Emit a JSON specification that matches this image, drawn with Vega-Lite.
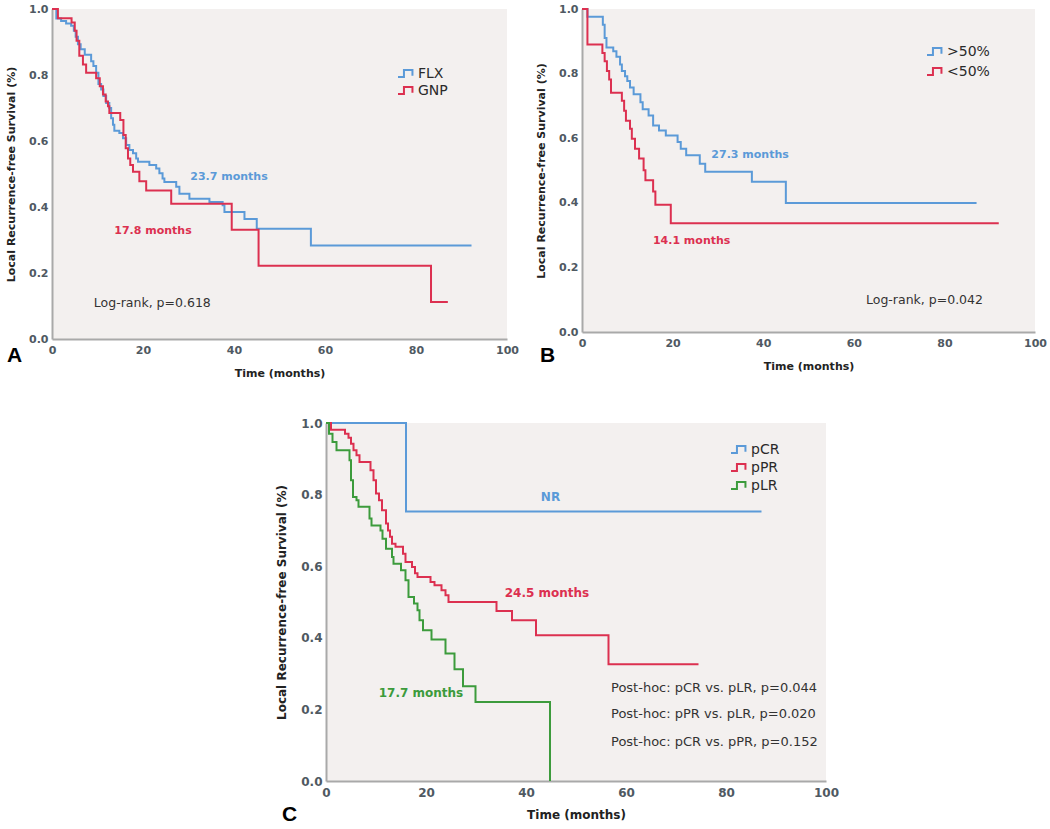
{
"$schema": "https://vega.github.io/schema/vega-lite/v6.json",
"padding": {"left": 5, "top": 3, "right": 0, "bottom": 0},
"background": "white",
"config": {
  "font": "DejaVu Sans",
  "view": {"fill": "#f3f0ef", "stroke": null},
  "axis": {"domainColor": "#a9a9a9", "domainWidth": 2, "ticks": false, "grid": false, "labelFont": "DejaVu Sans", "labelFontWeight": "bold", "labelColor": "#4f5962", "titleFont": "DejaVu Sans", "titleFontWeight": "bold", "titleColor": "#222222", "labelFlush": false, "labelOverlap": false},
  "legend": {"orient": "none", "title": null, "labelFont": "DejaVu Sans", "labelFontSize": 14, "labelColor": "#2a2a2a", "symbolType": "M-1,0.4H-0.3V-0.4H0.7V0.25", "symbolSize": 289, "symbolStrokeWidth": 2, "symbolFillColor": "transparent", "labelOffset": 2, "padding": 0, "rowPadding": 0}
},
"datasets": {
  "km": [
    {"p":"A","g":"FLX","t":0,"s":1},{"p":"A","g":"FLX","t":0.95,"s":0.971},{"p":"A","g":"FLX","t":2,"s":0.964},{"p":"A","g":"FLX","t":3.1,"s":0.956},{"p":"A","g":"FLX","t":4.2,"s":0.949},{"p":"A","g":"FLX","t":4.8,"s":0.934},{"p":"A","g":"FLX","t":5.2,"s":0.916},{"p":"A","g":"FLX","t":5.7,"s":0.893},{"p":"A","g":"FLX","t":6.3,"s":0.878},{"p":"A","g":"FLX","t":7.2,"s":0.861},{"p":"A","g":"FLX","t":8.6,"s":0.842},{"p":"A","g":"FLX","t":9.1,"s":0.827},{"p":"A","g":"FLX","t":9.7,"s":0.807},{"p":"A","g":"FLX","t":10.2,"s":0.773},{"p":"A","g":"FLX","t":10.8,"s":0.756},{"p":"A","g":"FLX","t":11.3,"s":0.736},{"p":"A","g":"FLX","t":11.9,"s":0.715},{"p":"A","g":"FLX","t":12.6,"s":0.7},{"p":"A","g":"FLX","t":13,"s":0.669},{"p":"A","g":"FLX","t":13.4,"s":0.649},{"p":"A","g":"FLX","t":13.7,"s":0.631},{"p":"A","g":"FLX","t":14.8,"s":0.624},{"p":"A","g":"FLX","t":15.6,"s":0.608},{"p":"A","g":"FLX","t":16.3,"s":0.588},{"p":"A","g":"FLX","t":17,"s":0.573},{"p":"A","g":"FLX","t":17.8,"s":0.563},{"p":"A","g":"FLX","t":18.5,"s":0.547},{"p":"A","g":"FLX","t":18.9,"s":0.537},{"p":"A","g":"FLX","t":21.4,"s":0.527},{"p":"A","g":"FLX","t":22.9,"s":0.517},{"p":"A","g":"FLX","t":23.6,"s":0.502},{"p":"A","g":"FLX","t":24.3,"s":0.486},{"p":"A","g":"FLX","t":24.7,"s":0.476},{"p":"A","g":"FLX","t":27.3,"s":0.461},{"p":"A","g":"FLX","t":28,"s":0.44},{"p":"A","g":"FLX","t":30.2,"s":0.425},{"p":"A","g":"FLX","t":34.6,"s":0.415},{"p":"A","g":"FLX","t":37.5,"s":0.405},{"p":"A","g":"FLX","t":37.9,"s":0.385},{"p":"A","g":"FLX","t":42.3,"s":0.364},{"p":"A","g":"FLX","t":45,"s":0.334},{"p":"A","g":"FLX","t":56.9,"s":0.283},{"p":"A","g":"FLX","t":92.2,"s":0.283},
    {"p":"A","g":"GNP","t":0,"s":1},{"p":"A","g":"GNP","t":1.3,"s":0.972},{"p":"A","g":"GNP","t":4.3,"s":0.959},{"p":"A","g":"GNP","t":5.0,"s":0.934},{"p":"A","g":"GNP","t":5.4,"s":0.904},{"p":"A","g":"GNP","t":6.0,"s":0.858},{"p":"A","g":"GNP","t":6.8,"s":0.832},{"p":"A","g":"GNP","t":7.5,"s":0.807},{"p":"A","g":"GNP","t":9.7,"s":0.79},{"p":"A","g":"GNP","t":10.5,"s":0.766},{"p":"A","g":"GNP","t":11.2,"s":0.741},{"p":"A","g":"GNP","t":11.8,"s":0.72},{"p":"A","g":"GNP","t":12.3,"s":0.705},{"p":"A","g":"GNP","t":12.6,"s":0.685},{"p":"A","g":"GNP","t":15.0,"s":0.664},{"p":"A","g":"GNP","t":15.7,"s":0.618},{"p":"A","g":"GNP","t":16.2,"s":0.578},{"p":"A","g":"GNP","t":16.7,"s":0.547},{"p":"A","g":"GNP","t":17.2,"s":0.527},{"p":"A","g":"GNP","t":17.8,"s":0.507},{"p":"A","g":"GNP","t":19.2,"s":0.478},{"p":"A","g":"GNP","t":20.7,"s":0.45},{"p":"A","g":"GNP","t":26.2,"s":0.41},{"p":"A","g":"GNP","t":39.5,"s":0.331},{"p":"A","g":"GNP","t":45.4,"s":0.222},{"p":"A","g":"GNP","t":83.3,"s":0.112},{"p":"A","g":"GNP","t":87,"s":0.112},
    {"p":"B","g":">50%","t":0,"s":1},{"p":"B","g":">50%","t":1.2,"s":0.976},{"p":"B","g":">50%","t":4.6,"s":0.951},{"p":"B","g":">50%","t":5.0,"s":0.91},{"p":"B","g":">50%","t":5.4,"s":0.881},{"p":"B","g":">50%","t":6.9,"s":0.869},{"p":"B","g":">50%","t":7.6,"s":0.852},{"p":"B","g":">50%","t":8.4,"s":0.828},{"p":"B","g":">50%","t":8.8,"s":0.808},{"p":"B","g":">50%","t":9.5,"s":0.792},{"p":"B","g":">50%","t":10,"s":0.777},{"p":"B","g":">50%","t":10.6,"s":0.757},{"p":"B","g":">50%","t":11.4,"s":0.736},{"p":"B","g":">50%","t":12.9,"s":0.711},{"p":"B","g":">50%","t":13.4,"s":0.69},{"p":"B","g":">50%","t":14.7,"s":0.67},{"p":"B","g":">50%","t":15.7,"s":0.639},{"p":"B","g":">50%","t":17,"s":0.624},{"p":"B","g":">50%","t":18.5,"s":0.608},{"p":"B","g":">50%","t":21.1,"s":0.588},{"p":"B","g":">50%","t":21.8,"s":0.567},{"p":"B","g":">50%","t":23,"s":0.547},{"p":"B","g":">50%","t":26,"s":0.521},{"p":"B","g":">50%","t":27.2,"s":0.496},{"p":"B","g":">50%","t":37.5,"s":0.465},{"p":"B","g":">50%","t":45,"s":0.399},{"p":"B","g":">50%","t":87.1,"s":0.399},
    {"p":"B","g":"<50%","t":0,"s":1},{"p":"B","g":"<50%","t":1.2,"s":0.89},{"p":"B","g":"<50%","t":4.5,"s":0.864},{"p":"B","g":"<50%","t":5.0,"s":0.838},{"p":"B","g":"<50%","t":5.5,"s":0.808},{"p":"B","g":"<50%","t":6.0,"s":0.782},{"p":"B","g":"<50%","t":6.4,"s":0.741},{"p":"B","g":"<50%","t":8.8,"s":0.716},{"p":"B","g":"<50%","t":9.3,"s":0.685},{"p":"B","g":"<50%","t":9.7,"s":0.654},{"p":"B","g":"<50%","t":10.6,"s":0.629},{"p":"B","g":"<50%","t":11,"s":0.598},{"p":"B","g":"<50%","t":11.7,"s":0.567},{"p":"B","g":"<50%","t":12.6,"s":0.537},{"p":"B","g":"<50%","t":13.6,"s":0.501},{"p":"B","g":"<50%","t":14,"s":0.47},{"p":"B","g":"<50%","t":15.7,"s":0.435},{"p":"B","g":"<50%","t":16.2,"s":0.394},{"p":"B","g":"<50%","t":19.6,"s":0.337},{"p":"B","g":"<50%","t":92,"s":0.337},
    {"p":"C","g":"pCR","t":0,"s":1},{"p":"C","g":"pCR","t":16,"s":0.753},{"p":"C","g":"pCR","t":87.1,"s":0.753},
    {"p":"C","g":"pPR","t":0,"s":1},{"p":"C","g":"pPR","t":1,"s":0.981},{"p":"C","g":"pPR","t":3.8,"s":0.97},{"p":"C","g":"pPR","t":4.5,"s":0.959},{"p":"C","g":"pPR","t":5,"s":0.942},{"p":"C","g":"pPR","t":5.5,"s":0.924},{"p":"C","g":"pPR","t":6.1,"s":0.91},{"p":"C","g":"pPR","t":6.7,"s":0.891},{"p":"C","g":"pPR","t":8.9,"s":0.868},{"p":"C","g":"pPR","t":9.5,"s":0.84},{"p":"C","g":"pPR","t":10,"s":0.803},{"p":"C","g":"pPR","t":10.6,"s":0.784},{"p":"C","g":"pPR","t":11.2,"s":0.756},{"p":"C","g":"pPR","t":12,"s":0.719},{"p":"C","g":"pPR","t":12.4,"s":0.7},{"p":"C","g":"pPR","t":12.8,"s":0.682},{"p":"C","g":"pPR","t":13.2,"s":0.663},{"p":"C","g":"pPR","t":13.9,"s":0.654},{"p":"C","g":"pPR","t":15.4,"s":0.635},{"p":"C","g":"pPR","t":15.9,"s":0.612},{"p":"C","g":"pPR","t":17.2,"s":0.598},{"p":"C","g":"pPR","t":17.8,"s":0.58},{"p":"C","g":"pPR","t":18.3,"s":0.57},{"p":"C","g":"pPR","t":20.9,"s":0.556},{"p":"C","g":"pPR","t":21.7,"s":0.547},{"p":"C","g":"pPR","t":23.1,"s":0.533},{"p":"C","g":"pPR","t":23.9,"s":0.519},{"p":"C","g":"pPR","t":24.5,"s":0.5},{"p":"C","g":"pPR","t":34.1,"s":0.475},{"p":"C","g":"pPR","t":37.2,"s":0.449},{"p":"C","g":"pPR","t":42,"s":0.407},{"p":"C","g":"pPR","t":56.5,"s":0.326},{"p":"C","g":"pPR","t":74.5,"s":0.326},
    {"p":"C","g":"pLR","t":0,"s":1},{"p":"C","g":"pLR","t":0.6,"s":0.97},{"p":"C","g":"pLR","t":1.3,"s":0.947},{"p":"C","g":"pLR","t":2.1,"s":0.924},{"p":"C","g":"pLR","t":4.7,"s":0.896},{"p":"C","g":"pLR","t":5,"s":0.84},{"p":"C","g":"pLR","t":5.4,"s":0.793},{"p":"C","g":"pLR","t":6.1,"s":0.784},{"p":"C","g":"pLR","t":6.5,"s":0.766},{"p":"C","g":"pLR","t":8.7,"s":0.733},{"p":"C","g":"pLR","t":9.1,"s":0.714},{"p":"C","g":"pLR","t":10.9,"s":0.7},{"p":"C","g":"pLR","t":11.3,"s":0.677},{"p":"C","g":"pLR","t":12,"s":0.649},{"p":"C","g":"pLR","t":13.2,"s":0.626},{"p":"C","g":"pLR","t":13.5,"s":0.607},{"p":"C","g":"pLR","t":15,"s":0.589},{"p":"C","g":"pLR","t":15.9,"s":0.561},{"p":"C","g":"pLR","t":16.5,"s":0.514},{"p":"C","g":"pLR","t":17.6,"s":0.496},{"p":"C","g":"pLR","t":18.3,"s":0.477},{"p":"C","g":"pLR","t":18.7,"s":0.449},{"p":"C","g":"pLR","t":19.4,"s":0.421},{"p":"C","g":"pLR","t":21.1,"s":0.395},{"p":"C","g":"pLR","t":23.9,"s":0.356},{"p":"C","g":"pLR","t":25.7,"s":0.312},{"p":"C","g":"pLR","t":27.4,"s":0.265},{"p":"C","g":"pLR","t":29.9,"s":0.221},{"p":"C","g":"pLR","t":44.8,"s":0}
  ],
  "notes": [
    {"p":"A","g":"FLX","t":38.9,"s":0.491,"label":"23.7 months"},
    {"p":"A","g":"GNP","t":22.2,"s":0.327,"label":"17.8 months"},
    {"p":"B","g":">50%","t":37.1,"s":0.547,"label":"27.3 months"},
    {"p":"B","g":"<50%","t":24.2,"s":0.281,"label":"14.1 months"},
    {"p":"C","g":"pCR","t":44.9,"s":0.792,"label":"NR"},
    {"p":"C","g":"pPR","t":44.2,"s":0.524,"label":"24.5 months"},
    {"p":"C","g":"pLR","t":19.0,"s":0.245,"label":"17.7 months"}
  ],
  "stats": [
    {"p":"A","t":9.2,"s":0.108,"label":"Log-rank, p=0.618"},
    {"p":"B","t":62.7,"s":0.1,"label":"Log-rank, p=0.042"},
    {"p":"C","t":57.0,"s":0.261,"label":"Post-hoc: pCR vs. pLR, p=0.044"},
    {"p":"C","t":57.0,"s":0.186,"label":"Post-hoc: pPR vs. pLR, p=0.020"},
    {"p":"C","t":57.0,"s":0.11,"label":"Post-hoc: pCR vs. pPR, p=0.152"}
  ],
  "tags": [
    {"p":"A","t":-8.2,"s":-0.05,"label":"A"},
    {"p":"B","t":-7.6,"s":-0.073,"label":"B"},
    {"p":"C","t":-7.3,"s":-0.096,"label":"C"}
  ]
},
"resolve": {"scale": {"x": "independent", "y": "independent", "color": "independent"}, "legend": {"color": "independent"}},
"spacing": 39,
"vconcat": [
  {
    "spacing": 16,
    "resolve": {"scale": {"x": "independent", "y": "independent", "color": "independent"}, "legend": {"color": "independent"}},
    "hconcat": [
      {
        "width": 455, "height": 330,
        "layer": [
          {"data": {"name": "km"}, "transform": [{"filter": "datum.p === 'A'"}],
           "mark": {"type": "line", "interpolate": "step-after", "strokeWidth": 2},
           "encoding": {
             "x": {"field": "t", "type": "quantitative", "title": "Time (months)", "scale": {"domain": [0, 100], "nice": false}, "axis": {"values": [0, 20, 40, 60, 80, 100], "labelFontSize": 11, "titleFontSize": 11, "labelPadding": 5, "titlePadding": 12}},
             "y": {"field": "s", "type": "quantitative", "title": "Local Recurrence-free Survival (%)", "scale": {"domain": [0, 1], "nice": false}, "axis": {"values": [0, 0.2, 0.4, 0.6, 0.8, 1], "format": ".1f", "labelFontSize": 11, "titleFontSize": 11, "labelPadding": 4, "titlePadding": 12}},
             "color": {"field": "g", "type": "nominal", "scale": {"domain": ["FLX", "GNP"], "range": ["#5b9ad8", "#dc3050"]}, "legend": {"legendX": 345, "legendY": 55, "encode": {"symbols": {"update": {"fill": {"value": "transparent"}, "fillOpacity": {"value": 0}}}}}}
           }},
          {"data": {"name": "notes"}, "transform": [{"filter": "datum.p === 'A'"}],
           "mark": {"type": "text", "fontWeight": "bold", "fontSize": 11},
           "encoding": {"x": {"field": "t", "type": "quantitative", "title": "Time (months)"}, "y": {"field": "s", "type": "quantitative", "title": "Local Recurrence-free Survival (%)"}, "text": {"field": "label"}, "color": {"field": "g", "type": "nominal", "legend": null}}},
          {"data": {"name": "stats"}, "transform": [{"filter": "datum.p === 'A'"}],
           "mark": {"type": "text", "align": "left", "fontSize": 12.5, "color": "#333333"},
           "encoding": {"x": {"field": "t", "type": "quantitative", "title": "Time (months)"}, "y": {"field": "s", "type": "quantitative", "title": "Local Recurrence-free Survival (%)"}, "text": {"field": "label"}}},
          {"data": {"name": "tags"}, "transform": [{"filter": "datum.p === 'A'"}],
           "mark": {"type": "text", "fontSize": 21, "fontWeight": "bold", "font": "Liberation Sans", "color": "#000000"},
           "encoding": {"x": {"field": "t", "type": "quantitative", "title": "Time (months)"}, "y": {"field": "s", "type": "quantitative", "title": "Local Recurrence-free Survival (%)"}, "text": {"field": "label"}}}
        ]
      },
      {
        "width": 453, "height": 323,
        "layer": [
          {"data": {"name": "km"}, "transform": [{"filter": "datum.p === 'B'"}],
           "mark": {"type": "line", "interpolate": "step-after", "strokeWidth": 2},
           "encoding": {
             "x": {"field": "t", "type": "quantitative", "title": "Time (months)", "scale": {"domain": [0, 100], "nice": false}, "axis": {"values": [0, 20, 40, 60, 80, 100], "labelFontSize": 11, "titleFontSize": 11, "labelPadding": 5, "titlePadding": 12}},
             "y": {"field": "s", "type": "quantitative", "title": "Local Recurrence-free Survival (%)", "scale": {"domain": [0, 1], "nice": false}, "axis": {"values": [0, 0.2, 0.4, 0.6, 0.8, 1], "format": ".1f", "labelFontSize": 11, "titleFontSize": 11, "labelPadding": 4, "titlePadding": 12}},
             "color": {"field": "g", "type": "nominal", "scale": {"domain": [">50%", "<50%"], "range": ["#5b9ad8", "#dc3050"]}, "legend": {"legendX": 344, "legendY": 33, "rowPadding": 3, "encode": {"symbols": {"update": {"fill": {"value": "transparent"}, "fillOpacity": {"value": 0}}}}}}
           }},
          {"data": {"name": "notes"}, "transform": [{"filter": "datum.p === 'B'"}],
           "mark": {"type": "text", "fontWeight": "bold", "fontSize": 11},
           "encoding": {"x": {"field": "t", "type": "quantitative", "title": "Time (months)"}, "y": {"field": "s", "type": "quantitative", "title": "Local Recurrence-free Survival (%)"}, "text": {"field": "label"}, "color": {"field": "g", "type": "nominal", "legend": null}}},
          {"data": {"name": "stats"}, "transform": [{"filter": "datum.p === 'B'"}],
           "mark": {"type": "text", "align": "left", "fontSize": 12.5, "color": "#333333"},
           "encoding": {"x": {"field": "t", "type": "quantitative", "title": "Time (months)"}, "y": {"field": "s", "type": "quantitative", "title": "Local Recurrence-free Survival (%)"}, "text": {"field": "label"}}},
          {"data": {"name": "tags"}, "transform": [{"filter": "datum.p === 'B'"}],
           "mark": {"type": "text", "fontSize": 21, "fontWeight": "bold", "font": "Liberation Sans", "color": "#000000"},
           "encoding": {"x": {"field": "t", "type": "quantitative", "title": "Time (months)"}, "y": {"field": "s", "type": "quantitative", "title": "Local Recurrence-free Survival (%)"}, "text": {"field": "label"}}}
        ]
      }
    ]
  },
  {
    "spacing": 0,
    "resolve": {"scale": {"x": "independent", "y": "independent", "color": "independent"}, "legend": {"color": "independent"}},
    "hconcat": [
      {"width": 223, "height": 10, "data": {"values": [{"k": 1}]}, "mark": {"type": "point", "opacity": 0}, "encoding": {}, "view": {"fill": "#ffffff", "stroke": null}},
      {
        "width": 500, "height": 358,
        "layer": [
          {"data": {"name": "km"}, "transform": [{"filter": "datum.p === 'C'"}],
           "mark": {"type": "line", "interpolate": "step-after", "strokeWidth": 2},
           "encoding": {
             "x": {"field": "t", "type": "quantitative", "title": "Time (months)", "scale": {"domain": [0, 100], "nice": false}, "axis": {"values": [0, 20, 40, 60, 80, 100], "labelFontSize": 12, "titleFontSize": 12, "labelPadding": 6, "titlePadding": 11}},
             "y": {"field": "s", "type": "quantitative", "title": "Local Recurrence-free Survival (%)", "scale": {"domain": [0, 1], "nice": false}, "axis": {"values": [0, 0.2, 0.4, 0.6, 0.8, 1], "format": ".1f", "labelFontSize": 12, "titleFontSize": 12, "labelPadding": 4, "titlePadding": 12}},
             "color": {"field": "g", "type": "nominal", "scale": {"domain": ["pCR", "pPR", "pLR"], "range": ["#5b9ad8", "#dc3050", "#3c9b3c"]}, "legend": {"legendX": 404, "legendY": 17, "rowPadding": 1, "labelFontSize": 14, "encode": {"symbols": {"update": {"fill": {"value": "transparent"}, "fillOpacity": {"value": 0}}}}}}
           }},
          {"data": {"name": "notes"}, "transform": [{"filter": "datum.p === 'C'"}],
           "mark": {"type": "text", "fontWeight": "bold", "fontSize": 12},
           "encoding": {"x": {"field": "t", "type": "quantitative", "title": "Time (months)"}, "y": {"field": "s", "type": "quantitative", "title": "Local Recurrence-free Survival (%)"}, "text": {"field": "label"}, "color": {"field": "g", "type": "nominal", "legend": null}}},
          {"data": {"name": "stats"}, "transform": [{"filter": "datum.p === 'C'"}],
           "mark": {"type": "text", "align": "left", "fontSize": 13, "color": "#333333"},
           "encoding": {"x": {"field": "t", "type": "quantitative", "title": "Time (months)"}, "y": {"field": "s", "type": "quantitative", "title": "Local Recurrence-free Survival (%)"}, "text": {"field": "label"}}},
          {"data": {"name": "tags"}, "transform": [{"filter": "datum.p === 'C'"}],
           "mark": {"type": "text", "fontSize": 21, "fontWeight": "bold", "font": "Liberation Sans", "color": "#000000"},
           "encoding": {"x": {"field": "t", "type": "quantitative", "title": "Time (months)"}, "y": {"field": "s", "type": "quantitative", "title": "Local Recurrence-free Survival (%)"}, "text": {"field": "label"}}}
        ]
      }
    ]
  }
]
}
